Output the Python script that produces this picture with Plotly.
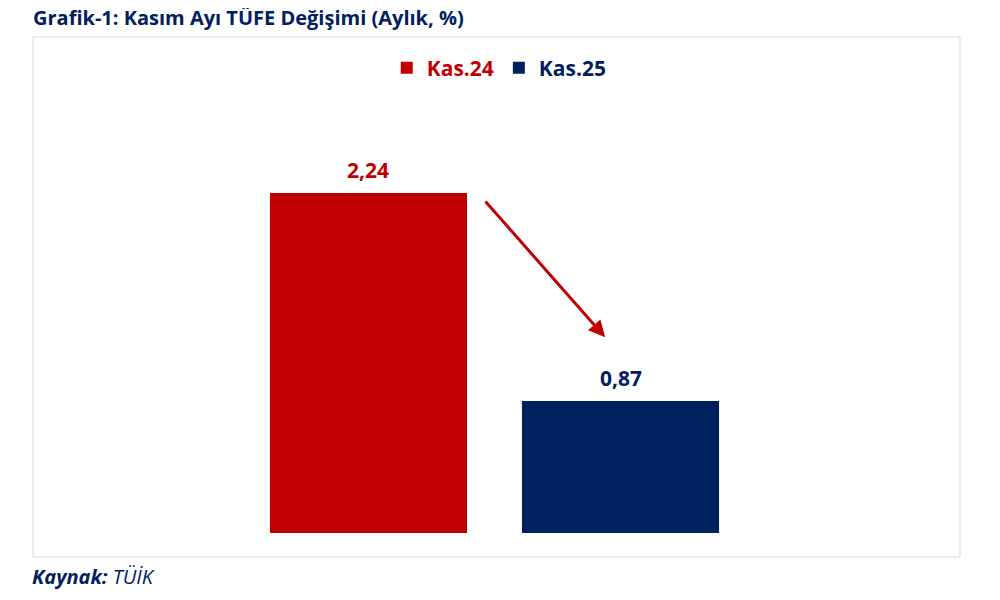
import plotly.graph_objects as go

RED = "#C00000"
NAVY = "#002060"

categories = ["Kas.24", "Kas.25"]
values = [2.24, 0.87]
colors = [RED, NAVY]
label_texts = ["2,24", "0,87"]

FONT = "'Open Sans', Lato, sans-serif"

fig = go.Figure()
for cat, val, col in zip(categories, values, colors):
    fig.add_trace(go.Bar(
        x=[cat], y=[val], name=f"<span style='color:{col}'><b>{cat}</b></span>",
        marker=dict(color=col, line=dict(width=0)), width=0.782,
    ))

for cat, val, col, txt in zip(categories, values, colors, label_texts):
    fig.add_annotation(x=cat, y=val, text=f"<b>{txt}</b>", showarrow=False,
                       yshift=23, font=dict(size=21, color=col, family=FONT))

# düşüş oku
fig.add_annotation(x=0.939, y=1.29, ax=0.459, ay=2.194, xref="x", yref="y",
                   axref="x", ayref="y", showarrow=True, arrowhead=2,
                   arrowsize=1.1, arrowwidth=3, arrowcolor=RED, text="")

# çerçeve
fig.add_shape(type="rect", xref="paper", yref="paper", x0=0, x1=1, y0=-0.0484, y1=1,
              line=dict(color="#d9d9d9", width=1), fillcolor="rgba(0,0,0,0)")

fig.add_annotation(xref="paper", yref="paper", x=-0.003, y=-0.0887, xanchor="left", yanchor="middle",
                   text="<b><i>Kaynak:</i></b><i> TÜİK</i>", showarrow=False,
                   font=dict(size=20, color=NAVY, family=FONT))

# sayfa gövdesindeki 8px kenar boşluğu için düzeltilmiş kenarlar
fig.update_layout(
    width=1000, height=600,
    margin=dict(l=25, r=48, t=29, b=75),
    title=dict(text="<b>Grafik-1: Kasım Ayı TÜFE Değişimi (Aylık, %)</b>",
               xref="paper", x=0, xanchor="left", yref="container", y=0.984, yanchor="middle",
               font=dict(size=20, color=NAVY, family=FONT)),
    paper_bgcolor="white", plot_bgcolor="white",
    separators=",.",
    barmode="overlay",
    showlegend=True,
    legend=dict(orientation="h", x=0.503, xanchor="center", y=0.9375, yanchor="middle",
                font=dict(size=21, family=FONT), itemwidth=30, itemsizing="constant",
                bgcolor="rgba(0,0,0,0)"),
    xaxis=dict(range=[-1.331, 2.347], showticklabels=False, showgrid=False, zeroline=False,
               showline=False, ticks=""),
    yaxis=dict(range=[0, 3.268], showticklabels=False, showgrid=False, zeroline=False,
               showline=False, ticks=""),
    font=dict(family=FONT),
)

fig.write_html("out.html")
